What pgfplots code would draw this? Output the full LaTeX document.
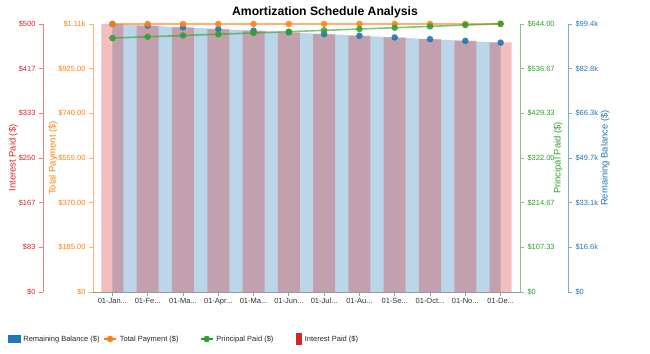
\documentclass[border=0pt]{standalone}
\usepackage{pgfplots}
\pgfplotsset{compat=1.18}
\usepackage{fontspec}
\setmainfont{Liberation Sans}
\definecolor{cR}{HTML}{D62728}
\definecolor{cO}{HTML}{FF7F0E}
\definecolor{cG}{HTML}{2CA02C}
\definecolor{cB}{HTML}{1F77B4}
\newcommand{\ddd}{.\kern0pt.\kern0pt.}
\newcommand{\lt}[1]{\makebox[77bp][l]{#1}}
\pgfplotsset{
  base/.style={scale only axis, width=427bp, height=268bp, at={(93bp,62bp)}, anchor=south west,
    xmin=-0.55, xmax=11.55, ymin=0, clip=false},
  hidden/.style={base, hide x axis, hide y axis},
  yax/.style={tick align=outside, major tick length=4bp, scaled y ticks=false,
    ytick style={draw=#1!60, line width=0.8bp},
    y axis line style={draw=#1!60, line width=0.8bp, -},
    yticklabel style={text=#1, font=\fontsize{7.5bp}{9bp}\selectfont}},
  ylab/.style n args={3}{every axis y label/.style={at={(axis description cs:#1,0.5)}, xshift=#2, rotate=90, anchor=center,
    text=#3, font=\fontsize{9.4bp}{11bp}\selectfont}},
}
\pgfplotstableread{
x balance interest principal total
0 99389.79 500.00 610.21 1110.21
1 98776.53 496.95 613.26 1110.21
2 98160.20 493.88 616.33 1110.21
3 97540.79 490.80 619.41 1110.21
4 96918.28 487.70 622.51 1110.21
5 96292.66 484.59 625.62 1110.21
6 95663.91 481.46 628.75 1110.21
7 95032.02 478.32 631.89 1110.21
8 94396.97 475.16 635.05 1110.21
9 93758.74 471.98 638.23 1110.21
10 93117.32 468.79 641.42 1110.21
11 92472.70 465.59 644.62 1110.21
}\amort
\begin{document}
\begin{tikzpicture}
\useasboundingbox (0,0) rectangle (650bp,354bp);
% blue area (remaining balance)
\begin{axis}[hidden, ymax=99389.79]
\addplot[fill=cB, fill opacity=0.3, draw=none] table[x=x, y=balance] {\amort} \closedcycle;
\end{axis}
% red bars (interest)
\begin{axis}[hidden, ymax=500]
\addplot[ybar, bar width=22bp, fill=cR, fill opacity=0.3, draw=none] table[x=x, y=interest] {\amort};
\end{axis}
% blue dots
\begin{axis}[hidden, ymax=99389.79]
\addplot[only marks, mark=*, mark size=3.3bp, color=cB, mark options={fill=cB, fill opacity=0.9, draw opacity=0}] table[x=x, y=balance] {\amort};
\end{axis}
% orange total payment axis (left) with x axis
\begin{axis}[base, ymax=1110, yax=cO,
  axis x line*=bottom, axis y line*=left,
  x axis line style={draw=black!40, line width=0.8bp, -},
  xtick={0,1,2,3,4,5,6,7,8,9,10,11},
  xticklabels={{01-Jan\ddd},{01-Fe\ddd},{01-Ma\ddd},{01-Apr\ddd},{01-Ma\ddd},{01-Jun\ddd},{01-Jul\ddd},{01-Au\ddd},{01-Se\ddd},{01-Oct\ddd},{01-No\ddd},{01-De\ddd}},
  xtick style={draw=black!40, line width=0.8bp},
  xticklabel style={text=black!80, font=\fontsize{7.5bp}{9bp}\selectfont, inner sep=1.5bp, text height=5.5bp, text depth=1.5bp},
  ytick={0,185,370,555,740,925,1110},
  yticklabels={\$0,\$185.00,\$370.00,\$555.00,\$740.00,\$925.00,\$1.11k},
  ylabel={Total Payment (\$)},
  ylab={0}{-40bp}{cO},
]
\addplot[color=cO, draw opacity=0.6, line width=1.6bp, mark=*, mark size=3.3bp, mark options={fill=cO, draw opacity=0, fill opacity=0.85}] table[x=x, y=total] {\amort};
\end{axis}
% green principal axis (right) + legend
\begin{axis}[base, ymax=644, yax=cG,
  hide x axis, axis y line*=right,
  ytick={0,107.333,214.667,322,429.333,536.667,644},
  yticklabels={\$0,\$107.33,\$214.67,\$322.00,\$429.33,\$536.67,\$644.00},
  ylabel={Principal Paid (\$)},
  ylab={1}{38bp}{cG},
  legend style={at={(axis description cs:-0.19906,-0.17537)}, anchor=west, draw=none, fill=none,
    inner sep=0pt, outer sep=0pt, legend columns=4, /tikz/column sep=3bp,
    nodes={inner sep=0pt, font=\fontsize{7.5bp}{9bp}\selectfont, text=black!85}},
  legend cell align=left,
]
\addplot[forget plot, color=cG, draw opacity=0.6, line width=1.6bp, mark=*, mark size=3.3bp, mark options={fill=cG, draw opacity=0, fill opacity=0.85}] table[x=x, y=principal] {\amort};
\addlegendimage{legend image code/.code={\fill[cB] (0bp,-3.5bp) rectangle (12bp,3.5bp);}}
\addlegendentry{\lt{Remaining Balance (\$)}}
\addlegendimage{legend image code/.code={\draw[cO, line width=1.5bp] (0bp,0bp) -- (12bp,0bp); \fill[cO] (6bp,0bp) circle (3bp);}}
\addlegendentry{\lt{Total Payment (\$)}}
\addlegendimage{legend image code/.code={\draw[cG, line width=1.5bp] (0bp,0bp) -- (12bp,0bp); \fill[cG] (6bp,0bp) circle (3bp);}}
\addlegendentry{\lt{Principal Paid (\$)}}
\addlegendimage{legend image code/.code={\fill[cR] (0bp,-5.5bp) rectangle (5bp,5.5bp);}}
\addlegendentry{\lt{Interest Paid (\$)}}
\end{axis}
% red interest axis (offset left)
\begin{axis}[scale only axis, width=10bp, height=268bp, at={(43bp,62bp)}, anchor=south west,
  xmin=0, xmax=1, ymin=0, ymax=500, yax=cR, hide x axis, axis y line*=left,
  ytick={0,83.333,166.667,250,333.333,416.667,500},
  yticklabels={\$0,\$83,\$167,\$250,\$333,\$417,\$500},
  ylabel={Interest Paid (\$)},
  ylab={0}{-30bp}{cR},
]
\end{axis}
% blue balance axis (offset right)
\begin{axis}[scale only axis, width=10bp, height=268bp, at={(568bp,62bp)}, anchor=south east,
  xmin=0, xmax=1, ymin=0, ymax=99389.79, yax=cB, hide x axis, axis y line*=right,
  ytick={0,16564.97,33129.93,49694.90,66259.86,82824.83,99389.79},
  yticklabels={\$0,\$16.6k,\$33.1k,\$49.7k,\$66.3k,\$82.8k,\$99.4k},
  ylabel={Remaining Balance (\$)},
  ylab={1}{37bp}{cB},
]
\end{axis}
\node[font=\fontsize{12.2bp}{14bp}\selectfont\bfseries] at (325bp,342bp) {Amortization Schedule Analysis};
\end{tikzpicture}
\end{document}
